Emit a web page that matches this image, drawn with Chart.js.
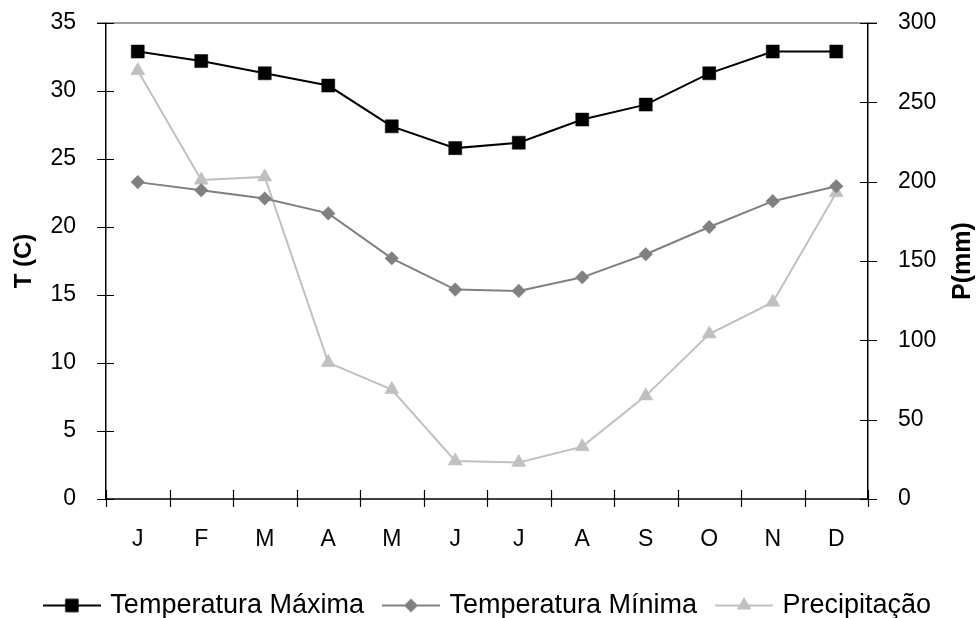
<!DOCTYPE html>
<html>
<head>
<meta charset="utf-8">
<script src="https://cdn.jsdelivr.net/npm/chart.js@4.4.1/dist/chart.umd.min.js"></script>
<style>
html,body{margin:0;padding:0;background:#ffffff;}
#wrap{width:978px;height:618px;position:relative;}
</style>
</head>
<body>
<div id="wrap"><canvas id="c" width="978" height="618"></canvas></div>
<script>
// ---- data ----
const months = ['J','F','M','A','M','J','J','A','S','O','N','D'];
const tempMax = [32.9, 32.2, 31.3, 30.4, 27.4, 25.8, 26.2, 27.9, 29.0, 31.3, 32.9, 32.9];
const tempMin = [23.3, 22.7, 22.1, 21.0, 17.7, 15.4, 15.3, 16.3, 18.0, 20.0, 21.9, 23.0];
const precip  = [270, 201, 203, 86, 69, 24, 23, 33, 65, 104, 124, 193];
const seriesNames = ['Temperatura Máxima', 'Temperatura Mínima', 'Precipitação'];
const leftTitle = 'T (C)';
const rightTitle = 'P(mm)';
const tempRange = [0, 35, 5];
const precipRange = [0, 300, 50];

// ---- styles ----
const FONT = "'Liberation Sans', Arial, Helvetica, sans-serif";
Chart.defaults.font.family = FONT;
Chart.defaults.color = '#000';

const styles = [
  {color:'#000000', point:'rect', radius:9.2},
  {color:'#808080', point:'rectRot', radius:6.8},
  {color:'#c0c0c0', point:'triangle', radius:8.2}
];

function makeIcon(st){
  const cv = document.createElement('canvas');
  cv.width = 58; cv.height = 18;
  const g = cv.getContext('2d');
  g.strokeStyle = st.color; g.lineWidth = 2;
  g.beginPath(); g.moveTo(0, 9); g.lineTo(58, 9); g.stroke();
  g.fillStyle = st.color;
  Chart.helpers.drawPoint(g, {pointStyle: st.point, radius: st.radius, borderWidth: 0}, 29, 9);
  g.fill();
  return cv;
}
const icons = styles.map(makeIcon);

const decor = {
  id: 'decor',
  afterLayout(chart){
    if (chart.legend) { chart.legend.top += 11; chart.legend.bottom += 11; }
  },
  beforeDatasetsDraw(chart){
    const {ctx, chartArea:ca, scales} = chart;
    const yl = scales.y, yr = scales.y1, xs = scales.x;
    ctx.save();
    ctx.strokeStyle = '#808080'; ctx.lineWidth = 1.5;
    ctx.beginPath(); ctx.moveTo(ca.left - 9, ca.top); ctx.lineTo(ca.right + 9, ca.top); ctx.stroke();
    ctx.strokeStyle = '#000'; ctx.lineWidth = 1.2;
    ctx.beginPath();
    yl.ticks.forEach(t => { const y = Math.round(yl.getPixelForValue(t.value)) + 0.5; ctx.moveTo(ca.left - 9, y); ctx.lineTo(ca.left + 8, y); });
    yr.ticks.forEach(t => { const y = Math.round(yr.getPixelForValue(t.value)) + 0.5; ctx.moveTo(ca.right - 8, y); ctx.lineTo(ca.right + 9, y); });
    for (let i = 0; i <= months.length; i++) {
      const x = Math.round(xs.getPixelForValue(i - 0.5)) + 0.5;
      ctx.moveTo(x, ca.bottom - 9); ctx.lineTo(x, ca.bottom + 8);
    }
    ctx.stroke();
    ctx.restore();
  },
  afterDraw(chart){
    const {ctx, chartArea:ca} = chart;
    ctx.save();
    ctx.translate(963, (ca.top + ca.bottom) / 2);
    ctx.rotate(-Math.PI / 2);
    ctx.font = 'bold 25px ' + FONT;
    ctx.fillStyle = '#000';
    ctx.textAlign = 'center'; ctx.textBaseline = 'middle';
    ctx.fillText(rightTitle, 0, 0);
    ctx.restore();
  }
};

const values = [tempMax, tempMin, precip];
const datasets = values.map((v, i) => ({
  label: seriesNames[i],
  data: v,
  yAxisID: i === 2 ? 'y1' : 'y',
  borderColor: styles[i].color,
  backgroundColor: styles[i].color,
  borderWidth: 2,
  pointStyle: styles[i].point,
  pointRadius: styles[i].radius,
  pointHoverRadius: styles[i].radius,
  pointBorderWidth: 0.5,
  pointBackgroundColor: styles[i].color,
  pointBorderColor: styles[i].color,
  tension: 0,
  fill: false
}));

const fitV = (w) => (s) => { s.width = w; s.paddingTop = 0; s.paddingBottom = 0; };

new Chart(document.getElementById('c'), {
  type: 'line',
  data: { labels: months, datasets },
  plugins: [decor],
  options: {
    responsive: false,
    animation: false,
    events: [],
    layout: { padding: { top: 23, left: 0, right: 0, bottom: 0 } },
    plugins: {
      tooltip: { enabled: false },
      legend: {
        position: 'bottom',
        labels: {
          usePointStyle: true,
          pointStyleWidth: 50,
          padding: 22,
          font: { size: 27 },
          color: '#000',
          generateLabels: (chart) => chart.data.datasets.map((d, i) => ({
            text: d.label, pointStyle: icons[i], fillStyle: styles[i].color,
            strokeStyle: styles[i].color, lineWidth: 0, hidden: false, datasetIndex: i, fontColor: '#000'
          }))
        }
      }
    },
    scales: {
      x: {
        type: 'category',
        offset: true,
        grid: { display: false },
        border: { display: true, color: '#404040', width: 2 },
        ticks: { padding: 19, font: { size: 23 }, color: '#000', autoSkip: false, maxRotation: 0 },
        afterFit: (s) => { s.height = 60; }
      },
      y: {
        position: 'left',
        min: tempRange[0], max: tempRange[1],
        ticks: { stepSize: tempRange[2], padding: 22, font: { size: 23 }, color: '#000' },
        grid: { display: false },
        border: { display: true, color: '#000', width: 1.5 },
        title: { display: true, text: leftTitle, font: { size: 24, weight: 'bold' }, color: '#000', padding: { top: 10, bottom: 0 } },
        afterFit: fitV(106)
      },
      y1: {
        position: 'right',
        min: precipRange[0], max: precipRange[1],
        ticks: { stepSize: precipRange[2], padding: 22, font: { size: 23 }, color: '#000' },
        grid: { display: false },
        border: { display: true, color: '#000', width: 1.5 },
        afterFit: fitV(110)
      }
    }
  }
});
</script>
</body>
</html>
